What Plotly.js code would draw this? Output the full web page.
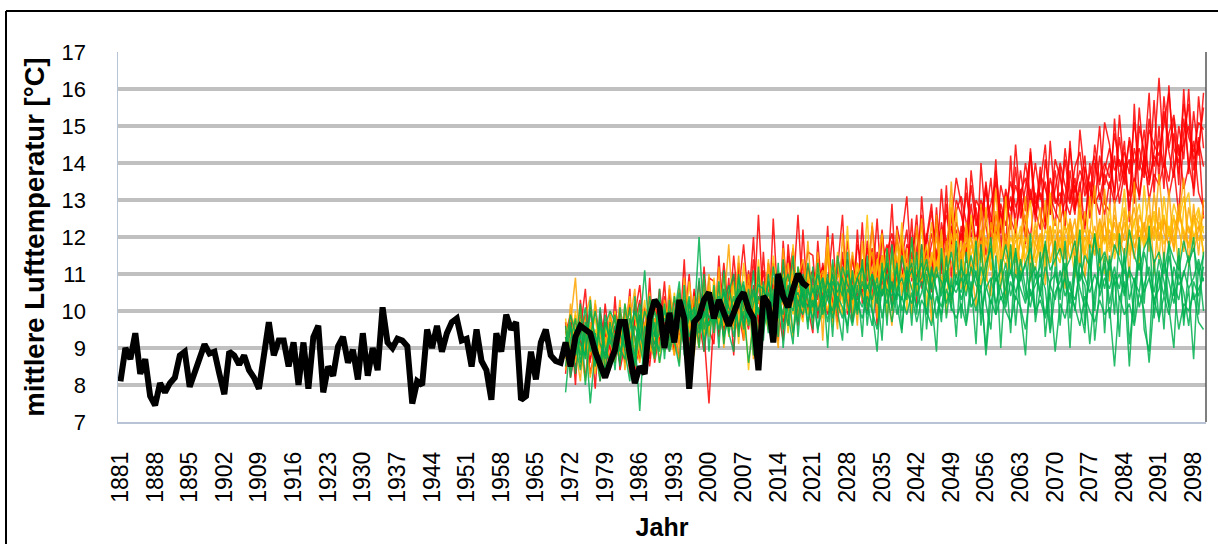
<!DOCTYPE html>
<html>
<head>
<meta charset="utf-8">
<script src="https://cdn.plot.ly/plotly-3.0.1.min.js"></script>
<style>html,body{margin:0;padding:0;background:#fff;}#chart{width:1218px;height:544px;}</style>
</head>
<body>
<div id="chart"></div>
<script>
// ---- Data ----
const firstYear = 1881, lastYear = 2100;
const obsStart = 1881;   // observed series 1881-2020
const projStart = 1971;  // projections 1971-2100

const observed = [
8.1,9.0,8.7,9.4,8.3,8.7,7.7,7.45,8.05,7.8,
8.05,8.2,8.8,8.9,7.95,8.3,8.7,9.1,8.85,8.9,
8.3,7.75,8.9,8.8,8.55,8.8,8.4,8.2,7.9,8.9,
9.7,8.8,9.2,9.2,8.5,9.15,8.0,9.15,7.9,9.3,
9.6,7.8,8.5,8.25,9.05,9.3,8.6,8.95,8.15,9.4,
8.25,9.0,8.4,10.1,9.15,9.0,9.25,9.2,9.05,7.5,
8.1,8.0,9.5,9.0,9.6,8.9,9.4,9.7,9.8,9.2,
9.25,8.5,9.5,8.65,8.4,7.6,9.4,8.9,9.9,9.5,
9.7,7.6,7.7,8.9,8.15,9.15,9.5,8.8,8.65,8.6,
9.15,8.5,9.3,9.6,9.5,9.4,8.9,8.5,8.2,8.6,
8.95,9.7,9.7,8.8,8.05,8.5,8.3,9.8,10.3,10.1,
9.0,9.95,9.15,10.3,9.8,7.9,9.7,9.85,10.3,10.5,
9.8,10.3,9.95,9.6,9.95,10.3,10.5,10.05,9.8,8.4,
10.4,10.2,9.15,11.0,10.4,10.1,10.6,11.0,10.75,10.65];

const red1 = [
9.3,8.6,9.8,9.1,8.2,9.5,8.9,9.7,8.4,9.2,
9.9,8.8,9.4,10.2,8.5,9.0,9.6,10.4,9.1,9.8,
9.3,10.1,9.5,8.7,10.3,9.2,10.6,9.7,8.9,10.0,
10.5,9.4,10.2,9.8,10.9,9.5,10.3,11.0,9.9,12.6,
10.1,10.8,9.6,10.7,11.2,10.0,10.5,12.6,10.3,10.9,
10.2,11.4,10.6,9.9,11.0,10.4,11.6,10.1,10.8,11.3,
10.5,11.7,10.9,10.2,11.3,11.8,10.6,11.1,12.0,13.1,
11.0,11.5,10.7,12.1,11.3,10.9,12.4,11.6,12.8,11.2,
12.3,11.5,12.9,11.8,12.5,13.4,11.9,12.6,12.1,13.0,
12.4,14.5,12.8,12.0,13.3,12.6,13.9,12.3,14.6,12.9,
13.2,12.5,13.8,12.7,13.5,12.2,14.0,13.1,12.6,13.7,
13.3,14.2,12.9,13.8,14.6,13.2,15.5,13.9,13.4,14.3,
16.3,14.1,13.5,14.8,13.7,15.2,14.0,13.3,15.8,14.4];
const red2 = [
8.8,9.5,8.3,9.9,9.2,8.6,10.2,9.0,9.4,8.7,
9.6,9.1,10.0,8.9,9.7,10.3,8.8,9.5,10.1,9.2,
10.4,9.0,9.8,10.5,9.3,10.0,9.6,10.8,9.4,7.5,
9.9,10.6,9.7,10.4,9.6,11.2,10.1,9.5,10.7,10.2,
11.1,9.8,10.9,10.4,9.7,11.5,10.6,10.2,11.3,10.0,
10.9,10.3,11.2,10.7,9.8,11.5,10.5,11.0,10.2,11.8,
11.2,10.6,11.4,10.9,12.2,10.7,11.5,10.8,11.9,11.3,
12.0,11.4,12.6,11.1,11.8,12.3,11.0,12.9,11.7,12.4,
11.9,13.2,12.2,12.8,11.6,12.5,13.6,12.0,12.9,12.3,
13.1,12.5,13.8,12.7,14.3,12.9,13.2,12.4,13.6,13.0,
12.8,14.1,13.0,13.6,12.5,13.9,13.3,12.9,14.2,13.4,
14.0,13.2,14.7,13.6,13.1,14.4,13.8,14.9,13.5,14.2,
13.9,15.4,14.3,13.6,15.0,14.1,16.0,13.8,14.6,13.9];
const red3 = [
9.6,9.0,8.5,9.3,9.9,8.8,9.2,8.1,9.7,9.4,
8.9,9.5,8.6,9.8,9.3,8.7,10.1,9.0,9.4,10.6,
9.5,9.9,10.3,9.1,9.7,10.2,9.4,10.0,10.7,9.6,
10.3,9.8,11.3,10.0,9.7,10.5,11.8,10.2,9.8,10.6,
10.4,11.0,10.7,9.9,11.4,10.8,11.7,10.1,10.9,11.2,
10.6,11.1,10.0,11.7,10.9,11.3,10.4,11.9,10.7,11.0,
11.4,10.8,12.3,11.0,10.7,11.6,12.1,11.3,10.9,11.8,
11.5,12.2,11.2,11.9,12.7,11.4,12.0,12.6,11.8,13.0,
12.6,12.0,13.4,12.3,13.0,12.4,12.9,13.5,12.2,13.3,
12.7,13.4,12.9,14.0,13.1,12.6,13.7,13.3,12.8,14.1,
13.6,13.0,14.4,13.2,13.8,13.4,12.9,14.5,13.5,14.0,
13.6,14.8,13.9,14.3,13.7,15.1,14.0,13.6,14.9,14.5,
14.2,15.0,15.9,14.4,14.0,15.6,14.7,14.3,15.1,14.9];
const red4 = [
9.1,8.4,9.4,8.9,9.6,8.3,9.0,9.5,8.7,9.9,
9.2,8.6,9.7,9.4,8.8,9.9,9.3,8.5,9.8,9.4,
9.7,9.3,8.9,10.0,9.5,9.0,10.2,9.4,9.9,10.4,
9.6,10.1,9.3,10.7,9.9,9.4,10.5,10.0,11.4,9.7,
10.6,9.9,10.3,11.0,10.2,9.6,10.8,10.4,9.8,11.1,
10.0,10.7,11.2,10.3,10.8,9.7,10.9,11.4,10.5,10.1,
10.9,11.3,10.4,11.6,10.8,11.2,10.5,12.0,11.1,10.7,
11.6,10.9,11.8,11.3,12.1,11.6,11.2,11.9,12.3,11.5,
12.1,11.7,12.4,11.9,12.8,11.5,12.3,12.0,12.7,11.8,
12.5,12.1,13.0,12.4,12.0,13.2,12.6,12.2,13.1,12.7,
12.4,13.0,12.6,13.4,12.8,12.3,13.5,12.9,13.2,12.6,
13.5,12.9,13.3,14.0,12.8,13.6,13.1,14.2,13.0,13.7,
13.4,14.0,13.1,13.8,14.5,13.3,13.9,14.6,13.2,12.8];
const red5 = [
9.4,9.9,8.7,9.2,8.9,10.1,8.5,9.3,9.6,8.4,
9.5,10.0,9.0,8.7,10.2,9.4,9.1,9.8,8.8,9.6,
9.2,10.0,9.6,10.6,9.0,9.9,10.3,9.5,10.1,9.7,
10.4,10.0,9.5,10.3,11.0,10.2,9.8,10.8,10.3,11.1,
9.8,10.5,11.3,10.2,10.9,10.5,11.0,10.7,10.4,10.8,
11.1,10.5,10.8,11.5,10.2,11.0,10.8,10.3,11.4,10.9,
10.6,11.1,11.7,10.8,11.5,11.0,11.9,10.6,11.4,12.2,
10.8,11.7,12.3,11.6,11.0,12.5,11.8,11.3,12.2,12.7,
13.1,12.4,11.9,13.0,12.7,13.2,12.5,11.9,13.4,12.8,
13.5,12.8,13.2,13.6,12.9,14.0,13.0,13.5,12.6,13.3,
14.0,13.4,12.9,13.9,14.3,13.1,13.7,14.2,13.0,13.8,
14.4,13.8,14.1,13.4,14.7,14.0,14.4,13.7,15.2,13.9,
14.6,13.9,14.8,15.3,14.2,14.5,15.0,14.1,14.4,15.5];
const red6 = [
8.3,9.9,8.0,10.3,8.9,9.6,7.9,10.0,9.2,8.5,
10.4,8.4,9.1,10.6,8.2,9.8,8.7,10.9,8.6,9.4,
10.8,8.9,10.0,9.2,11.4,8.6,10.5,9.0,11.2,9.5,
9.1,11.5,9.4,10.9,8.8,11.3,9.6,10.2,12.0,9.3,
11.6,9.5,12.5,10.0,9.2,11.8,10.4,9.6,12.2,10.1,
9.4,11.9,10.2,12.3,9.7,11.1,12.6,9.9,11.5,10.3,
12.4,10.0,11.6,9.6,12.1,10.8,12.9,10.4,11.8,10.6,
12.5,10.2,13.1,11.4,10.5,12.8,11.1,13.4,10.9,12.2,
11.4,13.6,12.0,11.2,14.0,12.3,11.5,13.8,12.6,11.7,
14.2,12.0,13.3,11.8,14.4,12.7,12.2,14.1,13.0,12.3,
13.9,12.2,14.6,12.8,13.3,14.2,12.5,13.6,15.0,12.9,
12.7,15.2,13.5,14.6,12.4,15.6,13.0,14.1,15.9,13.2,
15.0,13.3,16.1,13.9,12.6,14.8,15.6,13.1,14.7,12.5];
const red7 = [
9.7,8.2,9.0,9.5,10.6,8.7,9.4,8.5,10.2,9.0,
8.6,10.0,9.5,8.3,9.9,10.7,9.2,8.7,10.3,9.1,
9.0,10.6,8.8,10.1,9.6,11.0,9.1,10.4,9.3,10.9,
10.8,9.3,10.6,9.7,11.5,10.0,9.2,11.1,9.6,10.4,
9.4,11.3,10.5,9.2,11.9,10.1,11.4,9.8,10.7,11.6,
11.5,9.8,11.3,10.6,12.1,10.0,11.4,10.8,9.7,12.2,
10.2,11.9,10.7,12.5,10.4,11.3,10.1,12.3,11.6,10.5,
11.3,12.6,10.6,12.0,12.9,11.2,13.3,11.7,12.4,13.6,
12.9,11.3,13.8,12.5,11.8,13.5,12.2,14.1,11.6,13.2,
12.2,13.9,12.5,13.4,14.2,12.4,13.5,14.5,12.6,13.8,
12.7,14.4,13.3,12.6,14.9,13.6,12.8,14.0,13.4,15.1,
14.5,13.0,15.3,13.7,14.1,12.9,15.0,14.3,13.6,15.7,
13.5,15.8,14.4,15.2,13.4,16.0,13.7,15.4,14.2,15.9];

const orange1 = [
9.0,9.7,10.9,8.8,9.4,8.2,9.1,9.6,8.6,9.3,
9.8,8.9,9.4,10.0,9.2,8.6,9.7,9.3,10.1,9.0,
9.5,10.2,9.1,9.8,10.4,9.6,9.2,10.3,9.7,10.0,
10.6,9.7,10.1,11.8,9.6,10.4,9.9,10.7,10.2,9.5,
10.3,11.2,10.0,10.6,9.8,11.0,10.4,10.9,11.4,10.2,
10.7,10.1,11.0,10.5,11.3,9.9,10.8,11.2,10.4,11.0,
10.6,11.1,10.2,11.4,10.8,11.7,10.5,11.0,10.7,11.3,
11.0,10.5,11.6,10.9,11.3,12.0,10.8,11.4,13.5,11.2,
11.6,11.0,11.8,11.3,12.2,11.1,11.7,13.3,11.4,11.9,
11.5,12.1,11.2,11.8,11.4,12.4,11.6,13.0,11.3,11.9,
12.2,11.5,11.9,12.5,11.3,12.0,11.7,12.3,11.6,13.3,
11.8,12.4,11.6,12.1,12.7,11.7,12.2,11.9,12.6,12.0,
13.7,12.1,11.8,12.5,12.2,11.6,12.8,12.0,12.3,11.9];
const orange2 = [
9.5,8.9,9.2,10.1,8.7,9.6,8.3,9.4,9.0,9.8,
9.1,9.6,8.7,9.3,9.9,9.2,8.8,10.2,9.5,9.7,
10.0,9.4,10.5,9.2,9.8,10.1,9.5,10.0,9.3,10.7,
9.8,10.3,9.6,10.0,10.8,9.7,10.5,8.4,10.1,10.6,
10.7,10.1,10.5,11.1,10.3,10.6,9.9,10.8,10.2,11.0,
10.4,11.1,10.6,10.0,10.9,11.4,10.3,10.7,11.1,10.5,
11.0,10.4,11.2,10.8,11.5,10.6,11.1,11.8,10.9,11.2,
10.9,11.5,11.1,11.8,10.8,11.3,11.7,11.0,11.6,12.1,
11.2,11.8,11.5,12.0,11.3,11.9,11.4,12.3,11.7,11.2,
12.0,11.6,12.3,11.4,12.1,11.8,11.5,12.2,11.9,12.5,
11.7,12.3,11.8,12.0,12.6,11.5,12.2,11.9,12.4,11.8,
12.5,11.9,12.3,12.8,12.0,12.4,12.9,11.8,12.2,12.7,
12.2,12.6,12.0,12.9,12.4,13.1,12.1,12.5,11.9,12.3];
const orange3 = [
8.7,9.3,9.9,8.5,9.1,9.7,8.9,8.4,9.5,9.2,
8.6,9.4,9.9,9.0,8.8,9.6,10.0,9.1,8.7,9.9,
9.4,9.7,10.1,9.0,10.0,9.5,10.4,9.3,9.9,9.6,
10.2,9.5,10.4,9.9,10.3,10.0,9.4,11.0,9.8,10.3,
9.9,10.4,10.9,9.7,10.5,11.3,10.1,10.6,10.0,10.7,
11.0,10.6,10.2,11.5,10.7,10.4,11.2,10.0,11.6,10.8,
10.3,11.2,11.6,10.5,11.0,10.9,11.4,10.6,12.0,10.8,
11.4,10.8,11.3,11.1,12.4,10.9,11.5,11.2,11.8,10.9,
11.5,12.0,11.1,11.6,11.9,11.3,12.4,11.6,11.0,12.1,
11.4,11.9,12.0,11.2,11.7,12.2,11.3,11.8,12.3,11.5,
12.0,11.4,12.5,11.8,11.2,12.7,11.9,11.5,12.1,12.4,
11.7,12.6,12.0,11.5,12.3,12.8,11.9,12.4,11.6,13.2,
12.0,12.5,11.7,12.2,12.7,12.1,11.8,12.6,12.4,11.6];
const orange4 = [
9.2,8.5,9.6,9.0,8.1,9.4,9.8,8.8,9.3,8.6,
9.4,8.9,10.2,9.3,9.0,9.7,8.6,9.8,9.2,10.0,
9.2,9.8,9.5,10.3,9.1,9.7,9.9,10.5,9.4,10.1,
9.7,10.5,10.0,9.5,10.2,10.9,10.0,9.6,10.4,9.9,
10.5,9.6,10.3,10.8,10.2,9.8,11.1,10.3,10.7,9.9,
10.6,10.9,9.8,10.7,11.2,10.5,9.9,10.9,10.6,11.3,
10.8,10.3,11.0,10.6,11.3,10.4,10.9,11.5,10.5,11.0,
10.6,11.2,10.8,11.4,10.7,11.0,11.6,10.9,12.1,11.3,
10.9,11.4,12.0,11.1,11.6,10.8,11.5,12.1,11.2,11.8,
11.2,11.7,11.3,12.0,11.5,11.1,12.0,11.6,11.3,11.9,
11.5,12.0,11.4,11.7,12.2,11.6,11.3,12.1,11.7,12.0,
11.6,12.1,11.8,12.4,11.5,12.0,12.3,11.7,12.5,11.9,
12.4,11.8,12.3,11.9,12.6,12.2,11.7,12.4,12.8,12.1];
const orange5 = [
9.4,9.0,8.6,9.8,9.3,8.8,9.5,9.1,8.5,9.7,
9.3,9.7,9.1,8.5,9.5,10.1,9.4,8.9,9.6,9.3,
9.9,9.1,9.6,9.4,10.2,9.3,10.0,9.7,10.5,9.4,
10.0,10.7,9.8,10.3,9.5,10.6,10.2,9.9,10.5,10.0,
10.2,10.7,9.9,10.3,11.0,10.4,10.6,9.8,10.9,10.5,
10.3,10.8,11.1,10.6,10.1,11.0,10.7,11.3,10.2,10.9,
11.1,10.7,10.9,11.3,10.5,11.4,10.8,11.2,11.5,10.9,
11.2,11.0,11.4,10.7,11.5,11.2,11.9,10.8,11.3,11.6,
11.3,12.2,11.0,11.7,11.4,12.0,11.1,11.8,12.5,11.4,
11.8,11.3,11.9,12.6,11.2,11.6,12.1,11.4,11.8,12.2,
11.6,12.1,12.4,11.3,11.9,12.2,11.8,11.6,12.5,11.9,
12.2,11.6,12.4,11.9,12.1,11.4,12.6,12.2,11.8,12.3,
11.9,12.4,12.2,11.7,12.9,11.9,12.3,11.6,12.2,12.6];
const orange6 = [
8.4,10.2,9.0,8.1,9.8,10.4,8.6,9.5,8.3,10.0,
9.0,10.3,8.4,9.7,10.6,8.8,9.4,10.5,8.7,10.1,
8.9,10.7,9.6,8.6,10.9,9.9,8.8,10.4,9.3,11.0,
9.4,11.2,9.0,10.6,9.8,11.5,9.2,10.5,8.7,11.0,
9.6,11.4,10.1,9.0,11.7,10.4,9.3,11.2,9.9,11.9,
10.0,11.6,9.2,11.8,10.5,9.5,12.1,10.3,11.1,9.6,
11.9,10.1,12.4,9.8,11.4,10.6,9.6,12.2,10.4,11.7,
9.9,12.3,10.8,11.5,9.7,12.6,10.5,11.9,10.2,12.8,
10.6,12.4,11.3,10.1,12.9,11.0,10.4,12.7,11.6,10.3,
12.6,10.9,12.0,13.1,10.8,11.9,12.8,10.7,12.3,11.2,
12.9,10.6,12.4,11.4,13.2,10.9,12.1,13.4,11.1,12.6,
10.8,13.0,11.5,12.7,10.9,13.5,11.8,12.2,13.1,11.0,
12.8,11.3,13.3,11.6,12.5,13.6,11.2,12.9,11.5,13.0];
const orange7 = [
9.8,8.8,10.0,8.6,9.3,8.9,10.3,8.2,9.6,9.1,
10.0,8.7,9.5,10.4,8.5,9.3,10.3,8.9,9.8,8.6,
10.3,9.4,8.8,10.6,9.2,10.8,9.7,9.0,10.9,9.3,
10.9,9.6,11.0,9.3,10.7,9.1,11.3,10.0,9.6,11.4,
10.0,9.5,11.5,10.3,11.0,9.4,11.8,10.1,9.7,11.1,
9.7,11.3,10.5,12.0,9.6,11.6,10.2,12.3,9.9,11.2,
10.6,12.6,10.0,11.2,12.1,9.8,11.7,10.5,12.4,10.0,
12.0,10.4,12.5,10.1,11.6,11.0,12.2,9.9,13.0,11.1,
11.9,10.5,12.6,11.4,10.7,12.8,11.1,12.0,10.6,13.1,
11.0,12.5,10.9,12.2,13.0,11.3,12.0,11.2,13.2,11.6,
11.3,12.7,11.9,10.9,12.8,11.5,13.1,11.7,12.3,11.0,
12.9,11.4,12.1,13.3,11.6,12.5,11.2,13.4,11.9,12.6,
11.4,13.1,12.0,12.6,11.1,12.8,13.2,11.8,12.7,11.5];

const green1 = [
7.8,9.2,9.8,8.6,9.4,7.5,9.0,9.6,8.7,9.3,
9.9,8.9,9.3,10.1,8.5,9.5,11.1,9.2,9.7,8.6,
9.4,10.0,9.1,9.8,10.3,9.3,9.7,12.0,9.5,10.2,
9.6,10.4,9.8,10.0,9.3,10.6,10.1,9.7,10.5,9.9,
10.3,9.7,11.2,10.0,10.5,9.6,10.8,10.2,9.9,10.6,
10.1,10.7,9.9,10.4,11.0,10.2,9.8,10.6,10.3,10.9,
10.4,9.9,10.8,10.2,11.1,10.5,9.7,10.6,10.9,10.3,
12.0,10.4,10.8,9.9,11.2,10.5,10.1,10.9,10.4,11.0,
10.3,10.8,10.5,11.1,9.9,10.6,10.9,10.2,10.7,11.3,
10.4,11.0,10.6,10.2,10.9,11.2,10.5,9.9,10.8,11.0,
10.5,10.9,10.2,11.4,10.6,10.1,10.8,12.1,10.4,10.9,
10.6,11.2,10.3,10.8,8.5,10.7,11.3,10.5,10.9,10.2,
11.0,10.4,11.5,10.7,10.3,11.1,10.6,10.9,11.4,10.8];
const green2 = [
9.0,8.4,9.5,9.1,8.8,10.0,9.3,8.6,9.7,9.2,
8.8,9.4,9.0,9.8,9.3,7.3,9.6,9.1,10.0,9.5,
9.8,9.2,10.4,9.6,9.1,10.2,9.7,9.4,10.0,9.6,
10.3,9.8,10.6,9.4,10.0,10.3,9.6,10.1,10.6,10.0,
9.8,10.5,10.1,10.7,9.5,10.3,10.0,10.9,10.4,10.1,
10.6,10.0,10.4,9.7,10.8,10.5,10.9,10.2,9.6,10.4,
10.1,10.7,10.3,10.9,9.8,10.6,10.4,11.2,10.0,10.5,
10.2,10.9,11.3,10.6,10.3,11.0,10.8,10.2,10.7,10.5,
10.9,10.4,11.2,10.7,10.5,9.0,10.8,11.1,10.3,10.6,
11.1,10.5,10.9,11.3,10.4,10.7,11.0,10.6,9.4,10.5,
10.8,11.3,10.6,10.3,11.0,10.7,9.1,10.5,11.2,10.6,
11.4,10.7,11.0,10.4,11.1,10.8,10.5,11.6,10.9,10.3,
10.6,11.3,10.8,10.2,11.0,10.5,9.6,10.8,10.4,11.2];
const green3 = [
8.5,9.6,8.8,9.3,10.1,8.9,9.4,8.3,9.9,9.1,
9.6,9.0,8.7,9.5,10.0,9.4,8.9,9.7,9.3,10.3,
9.1,9.7,9.9,10.5,9.4,9.8,10.1,9.5,10.4,9.8,
10.1,9.5,10.2,10.7,9.9,10.3,10.8,9.6,10.2,10.7,
10.6,10.0,10.4,9.8,10.9,10.2,10.5,9.7,11.0,10.3,
9.8,10.5,10.9,10.3,10.0,10.8,10.4,11.1,10.6,10.0,
10.8,10.2,9.6,10.7,10.4,11.0,10.1,10.5,10.3,11.1,
10.6,10.1,10.5,11.2,10.7,9.8,10.6,11.1,10.3,10.8,
10.5,11.0,10.1,10.4,11.2,10.7,10.2,10.9,10.6,10.1,
10.8,10.3,11.4,10.6,10.1,11.0,10.4,11.2,10.7,10.3,
11.1,10.4,10.8,10.0,11.3,10.9,10.5,11.0,10.6,11.5,
10.2,11.0,10.6,11.5,10.3,10.9,10.1,10.7,11.2,10.5,
11.4,10.8,10.1,11.2,10.7,11.0,11.5,10.3,10.6,10.9];
const green4 = [
9.3,8.7,9.1,8.4,9.6,9.2,8.5,9.8,9.0,8.6,
9.4,8.6,9.7,9.1,8.8,10.2,9.0,9.4,8.7,9.8,
9.5,8.9,9.4,9.9,9.0,10.0,9.3,9.9,9.2,9.7,
9.9,10.2,9.3,9.8,10.4,9.5,10.0,8.6,9.7,10.1,
9.5,10.1,9.8,10.4,9.9,10.7,9.4,10.2,10.6,9.7,
10.3,9.5,10.1,10.6,9.8,10.4,10.1,9.6,10.7,10.2,
9.8,10.4,10.0,9.5,10.6,10.2,10.8,9.9,10.4,9.9,
10.5,9.7,10.3,10.0,9.6,10.4,9.9,10.6,10.1,9.8,
10.2,9.6,10.5,10.0,10.7,8.8,10.3,9.9,10.4,10.0,
9.7,10.4,10.1,9.5,10.6,10.0,10.3,9.8,10.5,8.9,
10.2,9.8,10.5,10.1,9.6,10.4,10.0,9.7,10.3,9.9,
10.1,8.5,10.4,9.9,10.2,9.6,10.5,10.0,8.6,10.3,
9.8,10.4,9.9,10.6,9.5,10.2,10.0,10.5,9.7,9.5];
const green5 = [
9.1,9.9,9.4,8.8,9.7,9.3,10.0,9.1,8.8,9.5,
9.2,9.8,9.4,8.9,9.6,9.2,10.0,9.6,9.1,9.4,
10.0,9.5,9.2,10.1,9.7,10.4,9.0,10.2,9.8,10.5,
9.7,10.0,10.5,10.1,9.8,10.9,10.3,10.0,9.6,10.4,
10.1,10.8,10.2,9.9,10.6,11.0,10.3,10.5,10.1,11.3,
10.5,11.0,10.3,10.8,10.6,10.1,11.2,10.7,10.4,10.9,
11.2,10.6,11.0,10.4,10.9,11.3,10.6,10.3,11.5,10.8,
11.1,10.7,10.9,11.4,10.6,11.2,10.4,10.9,11.6,10.7,
11.2,10.8,11.5,10.9,10.6,11.3,11.7,10.8,11.1,11.8,
11.0,11.6,10.8,11.3,11.7,10.9,11.2,11.8,11.1,11.4,
11.7,11.1,11.4,11.9,10.8,11.5,11.2,12.0,11.3,11.6,
11.1,11.8,11.4,11.0,12.2,11.5,11.1,11.7,12.0,11.3,
11.6,11.0,11.8,11.4,11.1,11.9,11.3,11.7,11.0,11.5];
const green6 = [
9.6,8.2,9.1,10.2,8.0,9.4,8.6,10.1,8.3,9.7,
8.4,10.1,8.9,8.1,10.4,9.1,8.4,10.0,8.8,10.6,
8.7,10.3,9.2,8.5,10.7,8.9,10.1,9.0,11.0,8.9,
10.7,9.0,11.1,9.4,8.9,11.0,9.5,10.6,8.8,11.2,
9.2,11.0,9.6,11.3,9.0,10.5,11.5,9.3,10.8,9.5,
11.2,9.4,10.9,9.0,11.4,10.0,9.2,11.6,9.7,10.7,
9.3,11.5,10.0,8.9,11.3,9.6,11.8,10.2,9.4,11.2,
9.6,11.6,9.2,11.0,10.3,8.9,11.7,9.8,10.9,9.3,
11.4,9.7,10.8,9.1,11.8,10.2,9.5,11.5,9.0,11.1,
9.4,11.7,10.0,8.8,11.3,9.9,11.6,9.3,10.7,11.9,
9.6,11.2,9.0,11.5,10.1,9.4,11.8,9.2,10.6,11.3,
9.8,10.9,9.3,11.7,9.1,10.4,12.0,9.5,8.9,11.4,
9.7,11.6,10.1,9.0,11.5,9.8,10.6,8.7,11.3,10.0];
const green7 = [
8.9,9.7,8.3,9.4,8.7,10.3,9.0,8.1,9.6,10.0,
9.7,8.5,10.2,9.2,8.6,9.9,8.5,10.4,9.4,8.9,
10.2,9.0,9.9,10.8,8.8,10.3,9.2,10.9,8.9,10.5,
9.4,10.8,9.1,10.5,11.0,9.3,10.7,9.8,11.1,9.0,
10.8,9.4,10.6,9.3,11.4,9.9,9.1,11.2,10.1,10.7,
9.5,11.3,10.1,11.0,9.3,11.5,10.6,9.4,11.1,9.9,
11.4,9.6,11.0,10.5,9.2,11.7,10.0,11.3,9.5,10.9,
11.3,9.9,11.8,9.5,11.1,10.6,9.7,11.5,10.0,11.9,
9.8,11.6,10.4,11.9,9.6,11.0,12.0,9.9,11.4,10.2,
11.8,9.6,11.1,10.3,12.1,9.7,10.6,11.9,9.5,11.2,
10.3,11.9,9.8,11.0,12.2,9.6,11.4,10.0,11.7,9.4,
11.5,9.9,12.1,10.5,11.2,9.7,11.8,10.2,12.3,9.8,
11.1,9.5,11.9,10.4,11.7,9.6,11.2,12.0,9.9,11.6];

const yTicks = [7,8,9,10,11,12,13,14,15,16,17];

// ---- Build categories ----
const years = [];
for (let y = firstYear; y <= lastYear; y++) years.push(String(y));
const tickYears = years.filter((y, i) => i % 7 === 0);
const obsYears = years.slice(obsStart - firstYear, obsStart - firstYear + observed.length);
const projYears = years.slice(projStart - firstYear);

const RED = '#FF0000', ORANGE = '#FFA500', GOLD = '#FFC000', GREEN = '#00B050';
const ensemble = [
  [red1, RED], [red2, RED], [red3, RED], [red4, RED], [red5, RED], [red6, RED], [red7, RED],
  [orange1, ORANGE], [orange2, GOLD], [orange3, ORANGE], [orange4, GOLD], [orange5, ORANGE], [orange6, ORANGE], [orange7, GOLD],
  [green1, GREEN], [green2, GREEN], [green3, GREEN], [green4, GREEN], [green5, GREEN], [green6, GREEN], [green7, GREEN]
];

const traces = ensemble.map(([vals, col]) => ({
  type: 'scatter', mode: 'lines', x: projYears, y: vals,
  line: {color: col, width: 1.5}, opacity: 0.85, hoverinfo: 'x+y'
}));
traces.push({
  type: 'scatter', mode: 'lines', x: obsYears, y: observed,
  line: {color: '#000000', width: 6}, hoverinfo: 'x+y'
});

const FONT = 'Liberation Sans, Arial, sans-serif';
const L = 118, R = 12, T = 52, B = 122, W = 1218, H = 544;
const pw = W - L - R, ph = H - T - B;
const px = v => (v - L) / pw;
const py = v => 1 - (v - T) / ph;

const layout = {
  width: W, height: H,
  margin: {l: L, r: R, t: T, b: B, pad: 0},
  paper_bgcolor: '#ffffff', plot_bgcolor: '#ffffff',
  showlegend: false,
  font: {family: FONT, color: '#000'},
  xaxis: {
    type: 'category', categoryorder: 'array', categoryarray: years,
    range: [-0.5, years.length - 0.5],
    tickvals: tickYears, ticktext: tickYears, tickangle: -90,
    tickfont: {family: FONT, size: 23, color: '#000'},
    ticks: 'outside', ticklen: 19, tickcolor: 'rgba(0,0,0,0)',
    showgrid: false, zeroline: false,
    showline: true, linecolor: '#B9C3D6', linewidth: 1.5,
    title: {text: 'Jahr', font: {family: FONT, size: 25, weight: 'bold', color: '#000'}, standoff: 16},
    automargin: false, fixedrange: true
  },
  yaxis: {
    range: [7, 17], tickvals: yTicks,
    tickfont: {family: FONT, size: 22, color: '#000'},
    ticks: 'outside', ticklen: 26, tickcolor: 'rgba(0,0,0,0)',
    showgrid: true, gridcolor: '#C0C0C0', gridwidth: 3.5,
    zeroline: false, showline: true, linecolor: '#B9C3D6', linewidth: 1.5,
    title: {text: 'mittlere Lufttemperatur [°C]', font: {family: FONT, size: 27.5, weight: 'bold', color: '#000'}, standoff: 9},
    automargin: false, fixedrange: true
  },
  shapes: [
    {type: 'line', xref: 'paper', yref: 'paper', x0: 1, x1: 1, y0: 0, y1: 1, line: {color: '#555555', width: 1.5}},
    {type: 'line', xref: 'paper', yref: 'paper', x0: px(6), x1: px(1225), y0: py(11), y1: py(11), line: {color: '#000', width: 2}},
    {type: 'line', xref: 'paper', yref: 'paper', x0: px(6), x1: px(6), y0: py(11), y1: py(560), line: {color: '#000', width: 2}}
  ]
};

Plotly.newPlot('chart', traces, layout, {staticPlot: true, displayModeBar: false});
</script>
</body>
</html>
